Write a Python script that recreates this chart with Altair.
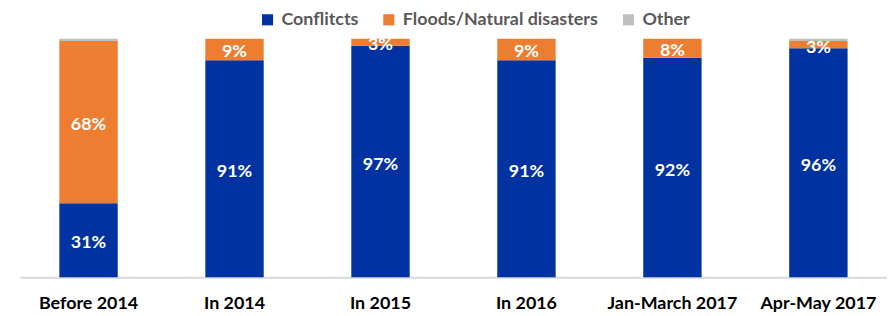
import altair as alt
import pandas as pd

categories = ["Before 2014", "In 2014", "In 2015", "In 2016", "Jan-March 2017", "Apr-May 2017"]
series = ["Conflitcts", "Floods/Natural disasters", "Other"]
conflicts = [31, 91, 97, 91, 92, 96]
floods = [68, 9, 3, 9, 8, 3]
other = [1, 0, 0, 0, 0, 1]
colors = ["#0033A1", "#ED7D31", "#BFBFBF"]

rows = []
for i, c in enumerate(categories):
    for j, (s, vals) in enumerate(zip(series, [conflicts, floods, other])):
        rows.append({"cat": c, "series": s, "order": j, "value": vals[i],
                     "label": f"{vals[i]}%" if j < 2 and vals[i] > 0 else ""})
df = pd.DataFrame(rows)

FONT = "Lato"
W, H = 872, 240

base = alt.Chart(df).encode(
    x=alt.X("cat:N", sort=categories, title=None,
            scale=alt.Scale(paddingInner=0.6, paddingOuter=0.27),
            axis=alt.Axis(labelAngle=0, labelFont=FONT, labelFontSize=18, labelFontWeight="bold",
                          labelColor="#000000", labelPadding=17, ticks=False, labelLimit=0,
                          domainColor="#D9D9D9", domainWidth=2)),
)

bars = base.mark_bar().encode(
    y=alt.Y("value:Q", stack="zero", scale=alt.Scale(domain=[0, 100], nice=False), axis=None),
    color=alt.Color("series:N", sort=series,
                    scale=alt.Scale(domain=series, range=colors),
                    legend=alt.Legend(title=None, orient="none", direction="horizontal",
                                      legendX=240, legendY=-28, symbolType="square",
                                      symbolSize=125, symbolStrokeWidth=0, labelLimit=0,
                                      labelFont=FONT, labelFontSize=18, labelFontWeight="bold",
                                      labelColor="#595959", columnPadding=21, labelOffset=5,
                                      padding=0)),
    order=alt.Order("order:Q"),
)

labels = base.mark_text(font=FONT, fontSize=18, fontWeight="bold", color="white", dy=3).encode(
    y=alt.Y("value:Q", stack="zero", bandPosition=0.5),
    text="label:N",
    order=alt.Order("order:Q"),
    detail="series:N",
)

chart = alt.layer(bars, labels).properties(
    width=W, height=H,
    padding={"left": 12, "top": 2, "right": 0, "bottom": 0},
).configure_view(stroke=None)

chart.save("out.html", embed_options={"renderer": "svg", "actions": False})
